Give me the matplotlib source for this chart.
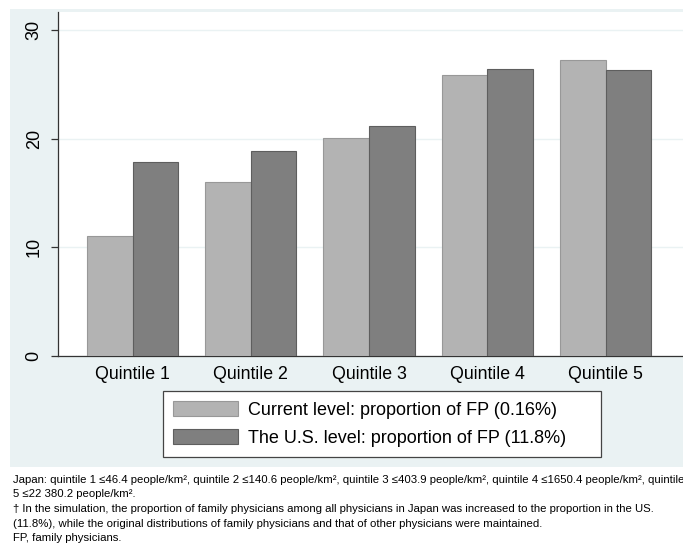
import matplotlib
matplotlib.use('Agg')
import matplotlib.pyplot as plt
from matplotlib.patches import Rectangle
import numpy as np

plt.rcParams['font.family'] = ['Liberation Sans', 'DejaVu Sans']

quintiles = ['Quintile 1', 'Quintile 2', 'Quintile 3', 'Quintile 4', 'Quintile 5']
current = [11.0, 16.0, 20.1, 25.9, 27.2]
us_level = [17.9, 18.9, 21.2, 26.4, 26.3]
labels = ['Current level: proportion of FP (0.16%)',
          'The U.S. level: proportion of FP (11.8%)']
yticks = [0, 10, 20, 30]

notes = [
    'Japan: quintile 1 \u226446.4 people/km\u00b2, quintile 2 \u2264140.6 people/km\u00b2, '
    'quintile 3 \u2264403.9 people/km\u00b2, quintile 4 \u22641650.4 people/km\u00b2, quintile',
    '5 \u226422 380.2 people/km\u00b2.',
    '\u2020 In the simulation, the proportion of family physicians among all physicians in '
    'Japan was increased to the proportion in the US.',
    '(11.8%), while the original distributions of family physicians and that of other '
    'physicians were maintained.',
    'FP, family physicians.',
]

W, H = 683, 544
fig = plt.figure(figsize=(W / 100, H / 100), dpi=100)
fig.patch.set_facecolor('white')

# stata-like graph region
bg = Rectangle((10 / W, 1 - 467 / H), 1 - 10 / W, (467 - 9) / H,
               transform=fig.transFigure, facecolor='#EAF2F3', edgecolor='none', zorder=-5)
fig.patches.append(bg)

ax = fig.add_axes([58 / W, 1 - 356 / H, 1 - 58 / W, (356 - 12) / H])
ax.set_facecolor('white')

x = np.arange(len(quintiles))
w = 0.385
ax.bar(x - w / 2, current, w, color='#B3B3B3', edgecolor='#989898', linewidth=0.8,
       label=labels[0], zorder=3)
ax.bar(x + w / 2, us_level, w, color='#7F7F7F', edgecolor='#5E5E5E', linewidth=0.8,
       label=labels[1], zorder=3)

ax.set_xlim(-0.63, 4.655)
ax.set_ylim(0, 31.66)
ax.set_yticks(yticks)
ax.set_yticklabels([str(t) for t in yticks], rotation=90, va='center', fontsize=13)
ax.set_xticks(x)
ax.set_xticklabels(quintiles, fontsize=12.8)
ax.tick_params(axis='x', length=0, pad=7)
ax.tick_params(axis='y', length=5, width=0.9, color='#333333', pad=6)
ax.grid(axis='y', color='#EAF2F3', linewidth=1, zorder=0)
for s in ['top', 'right']:
    ax.spines[s].set_visible(False)
for s in ['left', 'bottom']:
    ax.spines[s].set_color('#333333')
    ax.spines[s].set_linewidth(0.9)

leg = fig.legend(loc='upper left', mode='expand',
                 bbox_to_anchor=(163 / W, 1 - 457 / H, (601 - 163) / W, 66 / H),
                 fontsize=13, frameon=True, fancybox=False, edgecolor='#444444',
                 framealpha=1, handlelength=3.6, handleheight=0.9, labelspacing=0.6,
                 handletextpad=0.55, borderpad=0.55, borderaxespad=0)
leg.get_frame().set_linewidth(0.9)

ys = [483, 497, 512, 527, 541]
for yy, t in zip(ys, notes):
    fig.text(13 / W, 1 - yy / H, t, fontsize=8.22, va='baseline', ha='left',
             family=['Liberation Sans Narrow', 'Liberation Sans', 'DejaVu Sans'])

fig.savefig('out.png', dpi=100)
